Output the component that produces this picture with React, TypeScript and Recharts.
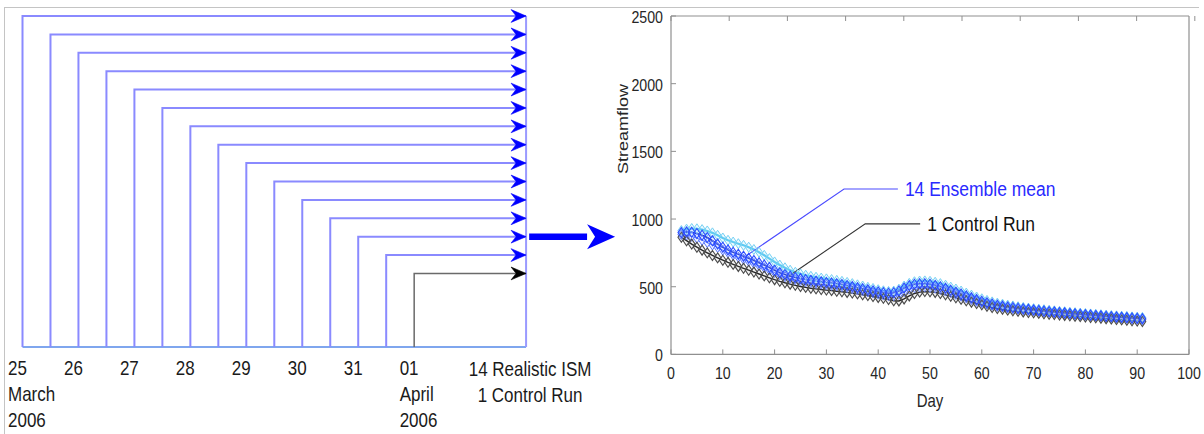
import React from 'react';
import { LineChart, Line, XAxis, YAxis } from 'recharts';

const FONT = '"Liberation Sans", Arial, Helvetica, sans-serif';

// ---------- Schematic of forecast start times ----------
// Runs start every 12 h; index 0 = 25 March 2006 00 UTC, index 14 = 01 April 2006
const runStart = [0, 1, 2, 3, 4, 5, 6, 7, 8, 9, 10, 11, 12, 13, 14];
const runLevel = [15, 14, 13, 12, 11, 10, 9, 8, 7, 6, 5, 4, 3, 2, 1];
const runIsControl = [false, false, false, false, false, false, false, false, false, false, false, false, false, false, true];
const convergeAt = 18;
const baseLevel = -3;
const topLevel = 15;

const dateTickRuns = [0, 2, 4, 6, 8, 10, 12, 14];
const dayLabels = ['25', '26', '27', '28', '29', '30', '31', '01'];
const monthLabels = ['March', '', '', '', '', '', '', 'April'];
const yearLabels = ['2006', '', '', '', '', '', '', '2006'];
const summaryLabels = ['14 Realistic ISM', '1 Control Run'];

const handoffX = [18.11, 20.18];
const handoffLevel = 3;

// ---------- Streamflow forecasts ----------
const days = [
  2, 3, 4, 5, 6, 7, 8, 9, 10, 11,
  12, 13, 14, 15, 16, 17, 18, 19, 20, 21,
  22, 23, 24, 25, 26, 27, 28, 29, 30, 31,
  32, 33, 34, 35, 36, 37, 38, 39, 40, 41,
  42, 43, 44, 45, 46, 47, 48, 49, 50, 51,
  52, 53, 54, 55, 56, 57, 58, 59, 60, 61,
  62, 63, 64, 65, 66, 67, 68, 69, 70, 71,
  72, 73, 74, 75, 76, 77, 78, 79, 80, 81,
  82, 83, 84, 85, 86, 87, 88, 89, 90, 91,
];

const ensembleMean = [
  900, 905, 902, 893, 880, 864, 840, 815, 792, 772,
  755, 740, 725, 710, 694, 677, 660, 642, 622, 604,
  590, 578, 568, 560, 553, 547, 541, 536, 531, 527,
  522, 516, 509, 501, 493, 485, 477, 469, 462, 456,
  452, 455, 468, 490, 508, 518, 522, 522, 518, 510,
  500, 488, 474, 460, 446, 432, 418, 405, 393, 382,
  372, 364, 357, 351, 346, 341, 337, 333, 329, 325,
  321, 317, 314, 310, 307, 303, 300, 297, 294, 291,
  288, 285, 282, 279, 277, 274, 272, 269, 267, 264,
];

const memberHigh = [
  915, 925, 930, 928, 922, 912, 898, 880, 860, 843,
  830, 818, 806, 792, 775, 755, 732, 708, 683, 660,
  640, 622, 607, 595, 585, 577, 570, 564, 558, 553,
  547, 540, 532, 523, 514, 505, 496, 487, 478, 470,
  465, 468, 482, 505, 525, 537, 542, 543, 540, 533,
  523, 511, 497, 483, 468, 453, 438, 424, 411, 399,
  388, 379, 371, 364, 358, 352, 347, 342, 338, 334,
  330, 326, 322, 318, 315, 311, 308, 305, 302, 299,
  296, 293, 290, 287, 285, 282, 280, 277, 275, 273,
];

const memberLow = [
  885, 882, 872, 858, 843, 826, 808, 790, 770, 751,
  734, 718, 703, 688, 672, 656, 640, 623, 605, 588,
  574, 562, 552, 543, 536, 530, 524, 519, 514, 510,
  506, 500, 493, 485, 477, 469, 461, 453, 445, 438,
  433, 433, 443, 463, 482, 493, 498, 499, 496, 489,
  480, 469, 456, 443, 430, 417, 404, 392, 381, 371,
  362, 354, 348, 342, 337, 333, 329, 325, 321, 317,
  314, 310, 307, 303, 300, 297, 294, 291, 288, 285,
  282, 279, 276, 273, 271, 268, 266, 263, 261, 258,
];

const controlRun = [
  865, 840, 815, 792, 770, 750, 731, 713, 696, 680,
  665, 650, 636, 622, 608, 594, 580, 566, 552, 540,
  529, 519, 510, 502, 495, 489, 484, 479, 475, 471,
  467, 463, 458, 453, 447, 441, 435, 428, 421, 414,
  405, 396, 395, 410, 432, 450, 460, 464, 463, 458,
  450, 440, 429, 418, 407, 396, 386, 376, 366, 356,
  346, 339, 333, 327, 322, 318, 314, 310, 307, 303,
  300, 297, 294, 291, 288, 285, 282, 279, 276, 273,
  270, 267, 264, 261, 258, 255, 252, 249, 246, 243,
];

const dayTicks = [0, 10, 20, 30, 40, 50, 60, 70, 80, 90, 100];
const flowTicks = [0, 500, 1000, 1500, 2000, 2500];

const ensembleCalloutDay = [13.9, 33.4, 43.8];
const ensembleCalloutFlow = [712, 1222, 1222];
const controlCalloutDay = [22.2, 37.5, 48.1];
const controlCalloutFlow = [565, 964, 964];

// ---------- helpers ----------
const AXIS = '#8f8f8f';
const TEXT = '#262626';

type STProps = {
  x: number; y: number; size: number; fill?: string; anchor?: 'start' | 'middle' | 'end';
  sx?: number; sy?: number; rotate?: number; children: React.ReactNode;
};
const ScaledText = ({ x, y, size, fill = TEXT, anchor = 'start', sx = 1, sy = 1.2, rotate = 0, children }: STProps) => (
  <text
    x={0}
    y={0}
    transform={`translate(${x},${y})${rotate ? ` rotate(${rotate})` : ''} scale(${sx},${sy})`}
    textAnchor={anchor}
    fontSize={size}
    fontFamily={FONT}
    fill={fill}
  >
    {children}
  </text>
);

const makeArrowDot = (color: string) => (props: any) => {
  const { cx, cy, index } = props;
  if (index !== 2 || cx == null) return <g key={`ad-${index}`} />;
  return (
    <path
      key={`ad-${index}`}
      d={`M${cx},${cy} L${cx - 15},${cy - 6.4} L${cx - 10},${cy} L${cx - 15},${cy + 6.4} Z`}
      fill={color}
      stroke={color}
      strokeWidth={0.6}
    />
  );
};

const handoffHead = (props: any) => {
  const { cx, cy, index } = props;
  if (index !== 1 || cx == null) return <g key={`hh-${index}`} />;
  return (
    <path
      key={`hh-${index}`}
      d={`M${cx},${cy - 12.5} L${cx + 28},${cy} L${cx},${cy + 12.5} L${cx + 8},${cy} Z`}
      fill="#0000ff"
    />
  );
};

const makeDiamond = (stroke: string, fill = 'none', fillOpacity = 0, sw = 1, w = 3.4, h = 5) => (props: any) => {
  const { cx, cy, index } = props;
  if (cx == null) return <g key={`dm-${index}`} />;
  return (
    <path
      key={`dm-${index}`}
      d={`M${cx},${cy - h} L${cx + w},${cy} L${cx},${cy + h} L${cx - w},${cy} Z`}
      fill={fill}
      fillOpacity={fillOpacity}
      stroke={stroke}
      strokeWidth={sw}
    />
  );
};

const makeCalloutText = (text: string, color: string) => (props: any) => {
  const { cx, cy, index } = props;
  if (index !== 2 || cx == null) return <g key={`ct-${index}`} />;
  return (
    <g key={`ct-${index}`}>
      <ScaledText x={cx + 7} y={cy + 7.5} size={17.5} fill={color}>
        {text}
      </ScaledText>
    </g>
  );
};

// ---------- schematic ticks ----------
const RunTick = (props: any) => {
  const { x, y, payload } = props;
  const v = payload.value;
  if (v === convergeAt) {
    return (
      <g>
        {summaryLabels.map((s, i) => (
          <ScaledText key={s} x={x + 4} y={y + 29 + i * 26} size={17} anchor="middle" fill="#1a1a1a">
            {s}
          </ScaledText>
        ))}
      </g>
    );
  }
  const k = dateTickRuns.indexOf(v);
  const lines = [dayLabels[k], monthLabels[k], yearLabels[k]];
  return (
    <g>
      {lines.map((s, i) =>
        s ? (
          <ScaledText key={i} x={x - 14.5} y={y + 28 + i * 26} size={17} fill="#1a1a1a">
            {s}
          </ScaledText>
        ) : null
      )}
    </g>
  );
};

// ---------- streamflow axis ticks (inward, boxed) ----------
const BottomTick = (props: any) => {
  const { x, y, payload } = props;
  return (
    <g>
      <line x1={x} x2={x} y1={y} y2={y - 5} stroke={AXIS} />
      <ScaledText x={x} y={y + 25} size={14.2} anchor="middle">
        {payload.value}
      </ScaledText>
    </g>
  );
};
const TopTick = (props: any) => {
  const { x, y } = props;
  return <line x1={x} x2={x} y1={y} y2={y + 5} stroke={AXIS} />;
};
const LeftTick = (props: any) => {
  const { x, y, payload } = props;
  return (
    <g>
      <line x1={x} x2={x + 5} y1={y} y2={y} stroke={AXIS} />
      <ScaledText x={x - 8} y={y + 7} size={14.2} anchor="end">
        {payload.value}
      </ScaledText>
    </g>
  );
};
const RightTick = (props: any) => {
  const { x, y } = props;
  return <line x1={x} x2={x - 5} y1={y} y2={y} stroke={AXIS} />;
};

const DayLabel = (props: any) => {
  const { viewBox } = props;
  const { x, y, width } = viewBox;
  return (
    <ScaledText x={x + width / 2} y={y + 53} size={15} anchor="middle">
      Day
    </ScaledText>
  );
};
const FlowLabel = (props: any) => {
  const { viewBox } = props;
  const { x, y } = viewBox;
  return (
    <ScaledText x={x - 3} y={y + 113} size={15} anchor="middle" rotate={-90} sx={1.2} sy={1}>
      Streamflow
    </ScaledText>
  );
};

export default function App() {
  const runs = runStart.map((s, i) => ({
    control: runIsControl[i],
    pts: [
      { x: s, y: baseLevel },
      { x: s, y: runLevel[i] },
      { x: convergeAt, y: runLevel[i] },
    ],
  }));

  const flowRows = days.map((d, i) => ({
    day: d,
    high: memberHigh[i],
    low: memberLow[i],
    mean: ensembleMean[i],
    control: controlRun[i],
  }));

  const ensembleCallout = ensembleCalloutDay.map((d, i) => ({ day: d, v: ensembleCalloutFlow[i] }));
  const controlCallout = controlCalloutDay.map((d, i) => ({ day: d, v: controlCalloutFlow[i] }));

  return (
    <div style={{ position: 'absolute', left: 0, top: 0, width: 1204, height: 434, background: '#fff', overflow: 'hidden' }}>
      <div
        style={{
          position: 'absolute',
          left: 4,
          top: 7,
          width: 1194,
          height: 440,
          borderTop: '1px solid #c4c4c4',
          borderLeft: '1px solid #c4c4c4',
        }}
      />
      <div style={{ position: 'absolute', left: 0, top: 0 }}>
        <LineChart width={624} height={434} margin={{ top: 16, right: 0, bottom: 7, left: 22.5 }}>
          <XAxis
            dataKey="x"
            type="number"
            domain={[0, 21.5]}
            ticks={[...dateTickRuns, convergeAt]}
            axisLine={false}
            tickLine={false}
            tickSize={0}
            tickMargin={0}
            height={80}
            interval={0}
            tick={RunTick}
          />
          <YAxis type="number" domain={[baseLevel, topLevel]} hide />
          <Line
            data={[{ x: 0, y: baseLevel }, { x: convergeAt, y: baseLevel }]}
            dataKey="y"
            stroke="#7fa6ee"
            strokeWidth={2}
            dot={false}
            isAnimationActive={false}
          />
          <Line
            data={[{ x: convergeAt, y: baseLevel }, { x: convergeAt, y: topLevel }]}
            dataKey="y"
            stroke="#9a9aff"
            strokeWidth={2}
            dot={false}
            isAnimationActive={false}
          />
          {runs.map((r, i) => (
            <Line
              key={`run-${i}`}
              data={r.pts}
              dataKey="y"
              type="linear"
              stroke={r.control ? '#6a6a6a' : '#8a8aff'}
              strokeWidth={r.control ? 1.5 : 2}
              dot={makeArrowDot(r.control ? '#000000' : '#0000ff')}
              isAnimationActive={false}
            />
          ))}
          <Line
            data={handoffX.map((x) => ({ x, y: handoffLevel }))}
            dataKey="y"
            stroke="#0000ff"
            strokeWidth={6.5}
            dot={handoffHead}
            isAnimationActive={false}
          />
        </LineChart>
      </div>
      <div style={{ position: 'absolute', left: 600, top: 0 }}>
        <LineChart width={604} height={434} data={flowRows} margin={{ top: 15, right: 14, bottom: 49.6, left: 31 }}>
          <XAxis
            dataKey="day"
            type="number"
            domain={[0, 100]}
            ticks={dayTicks}
            interval={0}
            height={30}
            tickSize={0}
            tickMargin={0}
            tickLine={false}
            axisLine={{ stroke: AXIS, strokeWidth: 1.2 }}
            tick={BottomTick}
            label={<DayLabel />}
          />
          <XAxis
            xAxisId="top"
            orientation="top"
            type="number"
            domain={[0, 100]}
            ticks={dayTicks}
            interval={0}
            height={1}
            tickSize={0}
            tickMargin={0}
            tickLine={false}
            axisLine={{ stroke: AXIS, strokeWidth: 1.2 }}
            tick={TopTick}
          />
          <YAxis
            type="number"
            domain={[0, 2500]}
            ticks={flowTicks}
            interval={0}
            width={40}
            tickSize={0}
            tickMargin={0}
            tickLine={false}
            axisLine={{ stroke: AXIS, strokeWidth: 1.2 }}
            tick={LeftTick}
            label={<FlowLabel />}
          />
          <YAxis
            yAxisId="right"
            orientation="right"
            type="number"
            domain={[0, 2500]}
            ticks={flowTicks}
            interval={0}
            width={1}
            tickSize={0}
            tickMargin={0}
            tickLine={false}
            axisLine={{ stroke: AXIS, strokeWidth: 1.2 }}
            tick={RightTick}
          />

          <Line dataKey="high" stroke="#4cc4f0" strokeWidth={2.2} dot={makeDiamond('#74d0f4', '#a8e4fa', 0.2, 1)} isAnimationActive={false} />
          <Line dataKey="low" stroke="#3f62ff" strokeWidth={1} dot={makeDiamond('#5a78ff', '#9ab8ff', 0.15, 1)} isAnimationActive={false} />
          <Line dataKey="control" stroke="#111111" strokeWidth={1.4} dot={makeDiamond('#4a4a4a', '#b0b0b0', 0.15, 1.1)} isAnimationActive={false} />
          <Line dataKey="mean" stroke="#0f22c0" strokeWidth={1.6} dot={makeDiamond('#2a4cff', '#8ab0ff', 0.15, 1.1)} isAnimationActive={false} />

          <Line
            data={ensembleCallout}
            dataKey="v"
            stroke="#4a4aff"
            strokeWidth={1.1}
            dot={makeCalloutText('14 Ensemble mean', '#2a2aff')}
            isAnimationActive={false}
          />
          <Line
            data={controlCallout}
            dataKey="v"
            stroke="#333333"
            strokeWidth={1.1}
            dot={makeCalloutText('1 Control Run', '#111111')}
            isAnimationActive={false}
          />
        </LineChart>
      </div>
    </div>
  );
}
